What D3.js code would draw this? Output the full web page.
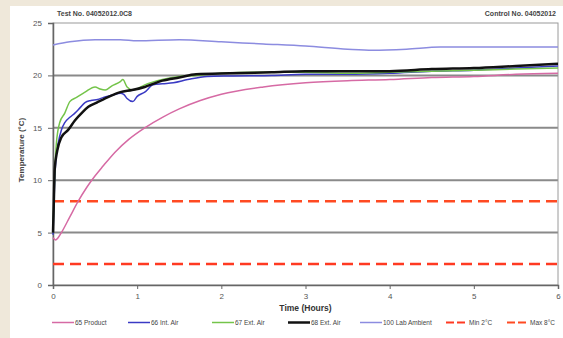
<!DOCTYPE html>
<html>
<head>
<meta charset="utf-8">
<script src="https://cdn.jsdelivr.net/npm/d3@7"></script>
<style>
  body { margin: 0; background: #efe8da; }
  svg { display: block; font-family: "Liberation Sans", Arial, sans-serif; }
</style>
</head>
<body>
<div id="chart"></div>
<script>
// temperature logger traces, [hours, degC]
const product = [[0,4.5],[0.03,4.3],[0.06,4.5],[0.1,5],[0.2,6.5],[0.3,8],[0.4,9.3],[0.46,10],[0.6,11.4],[0.74,12.7],[0.9,13.9],[1.09,15],[1.3,16],[1.5,16.8],[1.75,17.6],[2,18.2],[2.5,18.9],[3,19.3],[3.5,19.5],[4,19.6],[4.5,19.8],[5,19.9],[5.5,20.1],[6,20.2]];
const intAir = [[0,4.8],[0.02,10],[0.04,12.5],[0.06,13.5],[0.1,14.8],[0.14,15.5],[0.2,16],[0.26,16.4],[0.32,16.9],[0.38,17.4],[0.45,17.6],[0.53,17.7],[0.6,17.9],[0.7,18.1],[0.8,18.3],[0.84,18.2],[0.88,17.8],[0.95,17.5],[1.0,18],[1.09,18.4],[1.19,19.1],[1.3,19.2],[1.43,19.3],[1.6,19.6],[1.83,19.9],[2.1,19.95],[2.6,20.0],[3,20.1],[3.5,20.1],[4,20.2],[4.5,20.4],[5,20.5],[5.5,20.7],[6,20.9]];
const extAir67 = [[0,5],[0.02,10.5],[0.04,13.5],[0.08,15.5],[0.14,16.4],[0.2,17.5],[0.28,17.9],[0.38,18.4],[0.5,18.9],[0.56,18.7],[0.62,18.6],[0.7,19],[0.8,19.4],[0.83,19.6],[0.88,18.9],[0.95,18.6],[1.09,19.1],[1.3,19.6],[1.5,19.9],[1.7,20.0],[2,20.2],[2.5,20.3],[3,20.3],[3.5,20.2],[4,20.3],[4.5,20.4],[5,20.5],[5.5,20.6],[6,20.7]];
const extAir68 = [[0,5],[0.01,8],[0.02,11],[0.05,12.8],[0.1,14.1],[0.18,14.8],[0.26,15.7],[0.34,16.4],[0.42,17],[0.52,17.4],[0.62,17.8],[0.7,18.1],[0.8,18.4],[0.94,18.6],[1.09,18.9],[1.3,19.5],[1.5,19.8],[1.7,20.1],[2.1,20.2],[2.6,20.3],[3,20.4],[3.5,20.4],[4,20.4],[4.5,20.6],[5,20.7],[5.5,20.9],[6,21.1]];
const labAmbient = [[0,22.9],[0.2,23.2],[0.5,23.4],[0.8,23.4],[1,23.3],[1.5,23.4],[2,23.2],[2.5,23.0],[3,22.8],[3.5,22.5],[3.8,22.4],[4.2,22.5],[4.6,22.7],[5,22.7],[6,22.7]];
const minLimit = 2;
const maxLimit = 8;

const xTicks = [0, 1, 2, 3, 4, 5, 6];
const yTicks = [0, 5, 10, 15, 20, 25];

const series = [
  { name: "65 Product", data: product, color: "#d66aa4", width: 1.5 },
  { name: "66 Int. Air", data: intAir, color: "#3a3ac4", width: 1.5 },
  { name: "67 Ext. Air", data: extAir67, color: "#74c44a", width: 1.5 },
  { name: "68 Ext. Air", data: extAir68, color: "#111111", width: 2.5 },
  { name: "100 Lab Ambient", data: labAmbient, color: "#8c8ce0", width: 1.5 },
];
const limits = [
  { name: "Min 2°C", value: minLimit, color: "#ff3a22" },
  { name: "Max 8°C", value: maxLimit, color: "#ff4a22" },
];

const W = 563, H = 338;
const margin = { top: 23, right: 5, bottom: 53, left: 53 };
const width = W - margin.left - margin.right;
const height = H - margin.top - margin.bottom;

const svg = d3.select("#chart").append("svg").attr("width", W).attr("height", H);

// white panel on the beige page
svg.append("rect").attr("x", 10).attr("y", 6).attr("width", W - 10).attr("height", H - 6).attr("fill", "#fff");

const g = svg.append("g").attr("transform", `translate(${margin.left},${margin.top})`);

const x = d3.scaleLinear().domain([0, 6]).range([0, width]);
const y = d3.scaleLinear().domain([0, 25]).range([height, 0]);

// gridlines
g.append("g")
  .selectAll("line")
  .data(yTicks.filter((d) => d > 0 && d < 25))
  .join("line")
  .attr("x1", 0).attr("x2", width)
  .attr("y1", (d) => y(d)).attr("y2", (d) => y(d))
  .attr("stroke", "#8a8a8a").attr("stroke-width", 2);

// frame
g.append("rect").attr("width", width).attr("height", height)
  .attr("fill", "none").attr("stroke", "#9a9a9a").attr("stroke-width", 1);

const yAxis = g.append("g").call(d3.axisLeft(y).tickValues(yTicks).tickFormat(d3.format("d")).tickSize(5).tickPadding(6));
const xAxis = g.append("g").attr("transform", `translate(0,${height})`)
  .call(d3.axisBottom(x).tickValues(xTicks).tickFormat(d3.format("d")).tickSize(4).tickPadding(4));
[yAxis, xAxis].forEach((a) => {
  a.select(".domain").attr("stroke", "#666").attr("stroke-width", 1.5);
  a.selectAll(".tick line").attr("stroke", "#666");
  a.selectAll("text").attr("font-size", 8).attr("fill", "#555");
});

// limit lines
g.append("g")
  .selectAll("line")
  .data(limits)
  .join("line")
  .attr("x1", 0).attr("x2", width)
  .attr("y1", (d) => y(d.value)).attr("y2", (d) => y(d.value))
  .attr("stroke", (d) => d.color).attr("stroke-width", 2.5)
  .attr("stroke-dasharray", "11,6");

const line = d3.line().x((d) => x(d[0])).y((d) => y(d[1])).curve(d3.curveMonotoneX);

g.append("g")
  .selectAll("path")
  .data(series)
  .join("path")
  .attr("d", (d) => line(d.data))
  .attr("fill", "none")
  .attr("stroke", (d) => d.color)
  .attr("stroke-width", (d) => d.width)
  .attr("stroke-linejoin", "round");

// headings
svg.append("text").attr("x", 57).attr("y", 16).attr("font-size", 7).attr("font-weight", "bold")
  .attr("fill", "#444").text("Test No. 04052012.0C8");
svg.append("text").attr("x", 556).attr("y", 16).attr("text-anchor", "end").attr("font-size", 7)
  .attr("font-weight", "bold").attr("fill", "#444").text("Control No. 04052012");

svg.append("text").attr("transform", "translate(24,150) rotate(-90)")
  .attr("text-anchor", "middle").attr("font-size", 8).attr("font-weight", "bold").attr("fill", "#444")
  .text("Temperature (°C)");
svg.append("text").attr("x", margin.left + width / 2).attr("y", 311)
  .attr("text-anchor", "middle").attr("font-size", 8.5).attr("font-weight", "bold").attr("fill", "#333")
  .text("Time (Hours)");

// legend
const legendItems = [
  ...series.map((s) => ({ name: s.name, color: s.color, width: s.width, dash: null })),
  ...limits.map((l) => ({ name: l.name, color: l.color, width: 2, dash: "8,3" })),
];
const legendX = [52, 128, 212, 288, 360, 446, 507];
const legend = svg.append("g").attr("transform", "translate(0,325)");
const li = legend.selectAll("g").data(legendItems).join("g")
  .attr("transform", (d, i) => `translate(${legendX[i]},0)`);
li.append("line").attr("x1", 0).attr("x2", 22).attr("y1", -2.5).attr("y2", -2.5)
  .attr("stroke", (d) => d.color).attr("stroke-width", (d) => d.width)
  .attr("stroke-dasharray", (d) => d.dash);
li.append("text").attr("x", 23).attr("font-size", 6.5).attr("fill", "#444").text((d) => d.name);
</script>
</body>
</html>
